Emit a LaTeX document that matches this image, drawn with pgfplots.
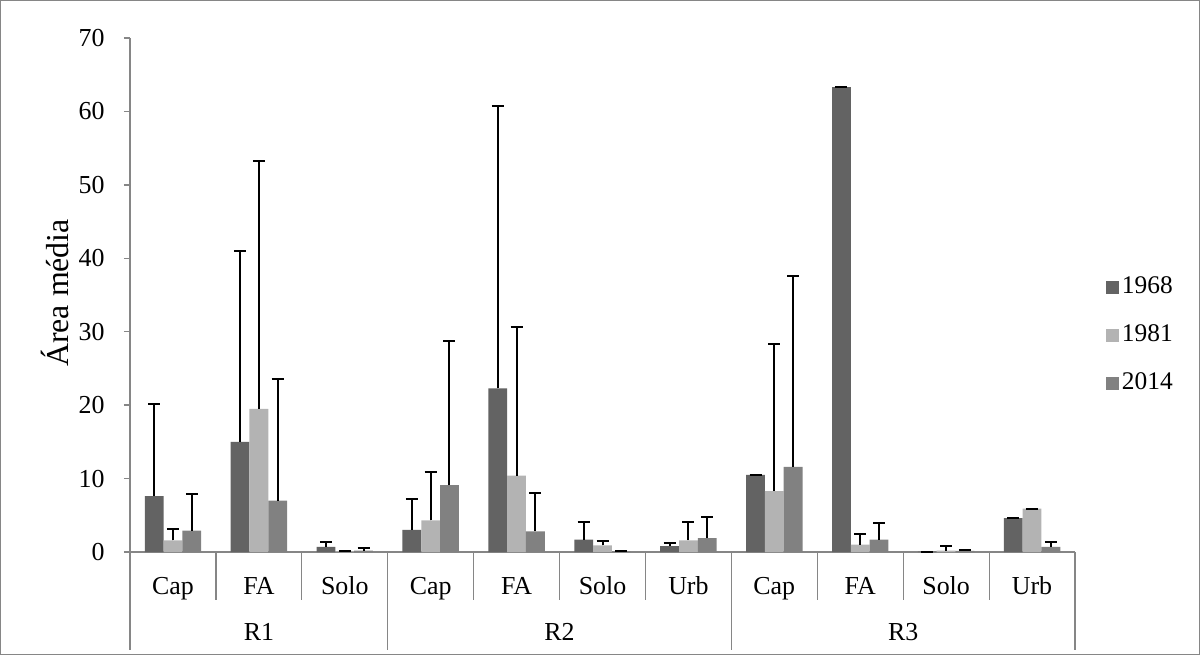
\documentclass[border=0pt]{standalone}
\usepackage{fontspec}
\setmainfont{Liberation Serif}
\usepackage{pgfplots}
\usepackage{pgfplotstable}
\pgfplotsset{compat=1.18}
\definecolor{cA}{HTML}{636363}
\definecolor{cB}{HTML}{B3B3B3}
\definecolor{cC}{HTML}{818181}
\definecolor{axgray}{HTML}{868686}
\pgfplotstableread{
x a ea b eb c ec
0 7.6 12.6 1.6 1.6 2.9 5.0
1 15.0 26.0 19.5 33.8 7.0 16.5
2 0.7 0.7 0.1 0.0 0.2 0.3
3 3.0 4.2 4.3 6.6 9.1 19.7
4 22.3 38.5 10.4 20.3 2.8 5.3
5 1.7 2.4 0.9 0.6 0.1 0.0
6 0.8 0.4 1.6 2.5 1.9 2.8
7 10.5 0.0 8.3 20.0 11.6 26.0
8 63.3 0.0 1.0 1.4 1.7 2.2
9 0.05 0.0 0.2 0.6 0.15 0.15
10 4.6 0.0 5.9 0.0 0.7 0.7
}\data
\begin{document}
\begin{tikzpicture}
\begin{axis}[
  at={(65bp,51.5bp)}, anchor=south west,
  scale only axis, width=472.5bp, height=257bp,
  xmin=-0.5, xmax=10.5, ymin=0, ymax=70,
  ybar=0pt, bar width=9.4bp,
  axis x line*=bottom, axis y line*=left,
  axis line style={axgray, line width=0.75bp},
  ytick={0,10,...,70},
  ytick style={axgray, line width=0.75bp},
  tick align=outside, major tick length=3bp,
  xtick={0,...,10},
  xticklabels={Cap,FA,Solo,Cap,FA,Solo,Urb,Cap,FA,Solo,Urb},
  xtick style={draw=none},
  xticklabel style={anchor=center, yshift=-15bp, text height=9bp, text depth=3bp},
  yticklabel style={anchor=east, inner sep=0pt, xshift=-9.5bp},
  ticklabel style={font=\fontsize{13}{15}\selectfont},
  /pgf/number format/assume math mode=true,
  ylabel={Área média},
  ylabel style={at={(axis description cs:-0.079,0.504)}, anchor=center, font=\fontsize{16}{18}\selectfont},
  clip=false,
  legend style={at={(1.026,0.422)}, anchor=west, draw=none, fill=none,
    font=\fontsize{12.75}{15}\selectfont, row sep=9.5bp,
    nodes={inner sep=1.5bp, text height=9bp, text depth=2.5bp}},
  legend cell align=left,
  legend image code/.code={\fill[#1,draw=none] (0bp,-3.25bp) rectangle (6.5bp,3.25bp);},
]
\addplot[fill=cA, draw=none, error bars/.cd, y dir=plus, y explicit,
  error bar style={black, line width=1bp}, error mark options={black, line width=1bp, mark size=3bp, rotate=90}]
  table[x=x, y=a, y error=ea]{\data};
\addplot[fill=cB, draw=none, error bars/.cd, y dir=plus, y explicit,
  error bar style={black, line width=1bp}, error mark options={black, line width=1bp, mark size=3bp, rotate=90}]
  table[x=x, y=b, y error=eb]{\data};
\addplot[fill=cC, draw=none, error bars/.cd, y dir=plus, y explicit,
  error bar style={black, line width=1bp}, error mark options={black, line width=1bp, mark size=3bp, rotate=90}]
  table[x=x, y=c, y error=ec]{\data};
\legend{1968,1981,2014}
\pgfplotsinvokeforeach{0.5,1.5,3.5,4.5,5.5,7.5,8.5,9.5}{
  \draw[axgray, line width=0.6bp] (axis cs:#1,0) -- ([yshift=-24bp]axis cs:#1,0);
}
\pgfplotsinvokeforeach{-0.5,2.5,6.5,10.5}{
  \draw[axgray, line width=0.6bp] (axis cs:#1,0) -- ([yshift=-49bp]axis cs:#1,0);
}
\node[font=\fontsize{13}{15}\selectfont] at ([yshift=-40bp]axis cs:1,0) {R1};
\node[font=\fontsize{13}{15}\selectfont] at ([yshift=-40bp]axis cs:4.5,0) {R2};
\node[font=\fontsize{13}{15}\selectfont] at ([yshift=-40bp]axis cs:8.5,0) {R3};
\end{axis}
\draw[axgray, line width=0.5bp] (0.25bp,0.25bp) rectangle (599.75bp,327.25bp);
\end{tikzpicture}
\end{document}
